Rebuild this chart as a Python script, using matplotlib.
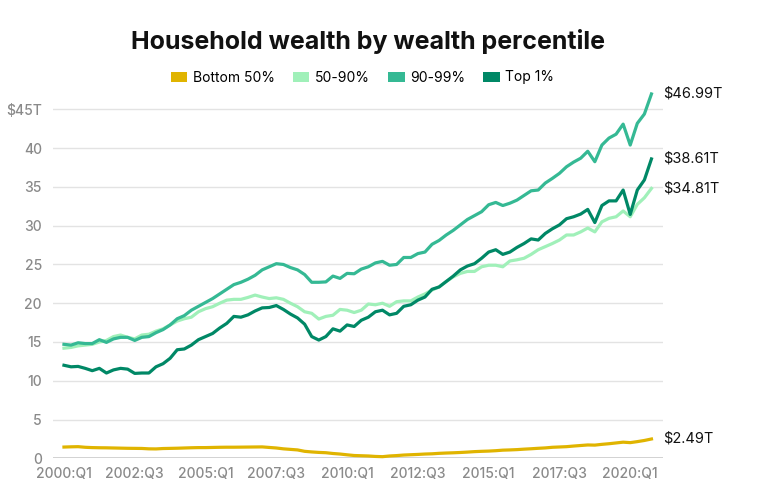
import matplotlib
matplotlib.use("Agg")
import matplotlib.pyplot as plt
from matplotlib.patches import Patch

plt.rcParams['font.family'] = ['Inter', 'DejaVu Sans']

# quarterly, 2000:Q1 .. 2020:Q4, trillions of dollars
quarters = [f"{y}:Q{q}" for y in range(2000, 2021) for q in range(1, 5)]

bottom_50 = [1.45, 1.48, 1.50, 1.42, 1.38, 1.36, 1.35, 1.33, 1.31, 1.29,
             1.28, 1.27, 1.22, 1.21, 1.26, 1.28, 1.30, 1.33, 1.36, 1.38,
             1.38, 1.40, 1.42, 1.43, 1.43, 1.44, 1.45, 1.46, 1.47, 1.40,
             1.33, 1.22, 1.15, 1.08, 0.90, 0.82, 0.76, 0.72, 0.62, 0.55,
             0.45, 0.36, 0.33, 0.30, 0.24, 0.21, 0.30, 0.35, 0.42, 0.46,
             0.50, 0.55, 0.58, 0.64, 0.68, 0.71, 0.75, 0.80, 0.86, 0.90,
             0.93, 0.98, 1.05, 1.08, 1.12, 1.18, 1.23, 1.29, 1.34, 1.42,
             1.46, 1.50, 1.58, 1.65, 1.72, 1.70, 1.80, 1.88, 1.98, 2.08,
             2.02, 2.15, 2.30, 2.49]

p50_90 = [14.2, 14.3, 14.5, 14.6, 14.7, 15.0, 15.2, 15.7, 15.9, 15.6,
          15.4, 15.9, 16.0, 16.4, 16.7, 17.2, 17.7, 18.0, 18.2, 18.9,
          19.3, 19.55, 20.0, 20.4, 20.5, 20.5, 20.75, 21.05, 20.8, 20.6,
          20.7, 20.5, 20.0, 19.55, 18.9, 18.7, 17.96, 18.3, 18.45, 19.2,
          19.1, 18.8, 19.1, 19.9, 19.8, 20.0, 19.6, 20.2, 20.3, 20.3,
          20.8, 21.2, 21.7, 22.1, 22.8, 23.4, 23.85, 24.1, 24.1, 24.7,
          24.9, 24.9, 24.7, 25.45, 25.6, 25.8, 26.3, 26.9, 27.3, 27.7,
          28.15, 28.8, 28.8, 29.2, 29.7, 29.2, 30.5, 30.95, 31.15, 31.9,
          31.15, 32.75, 33.6, 34.81]

p90_99 = [14.7, 14.6, 14.9, 14.8, 14.8, 15.3, 14.95, 15.4, 15.6, 15.6,
          15.2, 15.6, 15.7, 16.2, 16.6, 17.2, 18.0, 18.4, 19.1, 19.6,
          20.1, 20.6, 21.2, 21.8, 22.4, 22.7, 23.1, 23.6, 24.3, 24.7,
          25.1, 25.0, 24.6, 24.3, 23.7, 22.7, 22.7, 22.75, 23.5, 23.2,
          23.85, 23.8, 24.4, 24.7, 25.2, 25.4, 24.9, 25.0, 25.9, 25.9,
          26.4, 26.6, 27.6, 28.1, 28.8, 29.4, 30.1, 30.8, 31.3, 31.8,
          32.7, 33.0, 32.6, 32.9, 33.3, 33.9, 34.5, 34.6, 35.5, 36.1,
          36.75, 37.6, 38.2, 38.7, 39.6, 38.25, 40.4, 41.3, 41.8, 43.1,
          40.4, 43.2, 44.4, 46.99]

top_1 = [12.0, 11.8, 11.85, 11.6, 11.3, 11.6, 11.0, 11.4, 11.6, 11.5,
         10.95, 11.0, 11.0, 11.8, 12.2, 12.9, 14.0, 14.1, 14.6, 15.3,
         15.7, 16.1, 16.8, 17.4, 18.3, 18.2, 18.5, 19.0, 19.4, 19.45,
         19.7, 19.2, 18.6, 18.1, 17.3, 15.7, 15.25, 15.7, 16.7, 16.4,
         17.2, 17.0, 17.8, 18.2, 18.9, 19.1, 18.5, 18.7, 19.6, 19.8,
         20.4, 20.8, 21.8, 22.1, 22.8, 23.5, 24.3, 24.8, 25.1, 25.8,
         26.6, 26.9, 26.3, 26.6, 27.2, 27.7, 28.3, 28.15, 29.0, 29.6,
         30.1, 30.9, 31.15, 31.5, 32.1, 30.4, 32.6, 33.2, 33.2, 34.6,
         31.45, 34.6, 35.9, 38.61]

series = [("Bottom 50%", bottom_50, "#E0B400"),
          ("50-90%", p50_90, "#A0F0B9"),
          ("90-99%", p90_99, "#35B994"),
          ("Top 1%", top_1, "#008866")]

y_ticks = [0, 5, 10, 15, 20, 25, 30, 35, 40, 45]
y_labels = ["0", "5", "10", "15", "20", "25", "30", "35", "40", "$45T"]

fig = plt.figure(figsize=(7.68, 5.0), dpi=100)
ax = fig.add_axes([0.069, 0.0834, 0.794, 0.7366])

x = list(range(len(quarters)))
for name, vals, col in series:
    ax.plot(x, vals, color=col, lw=2.3, solid_joinstyle="round", clip_on=False, zorder=3)
    ax.text(len(x) - 1 + 1.6, vals[-1], f"${vals[-1]:.2f}T", fontsize=10.5,
            color="#111111", va="center", ha="left")

ax.set_xlim(-1.55, 84.6)
ax.set_ylim(0, 47.5)
ax.set_yticks(y_ticks)
ax.set_yticklabels(y_labels)
ax.set_xticks(x[::10])
ax.set_xticklabels(quarters[::10])
ax.tick_params(axis="both", length=0, labelsize=10, labelcolor="#8a8a8a")
ax.tick_params(axis="x", pad=6)
ax.tick_params(axis="y", pad=8)
for lbl in ax.get_xticklabels() + ax.get_yticklabels():
    lbl.set_fontweight("medium")

ax.grid(axis="y", color="#e3e3e3", lw=1)
ax.set_axisbelow(True)
for s in ax.spines.values():
    s.set_visible(False)
ax.axhline(0, color="#cccccc", lw=1.2, zorder=2)

fig.text(0.479, 0.916, "Household wealth by wealth percentile", ha="center",
         va="center", fontsize=18, fontweight="bold", color="#111111")

handles = [Patch(facecolor=c, edgecolor="none", label=n) for n, v, c in series]
fig.legend(handles=handles, loc="center", bbox_to_anchor=(0.472, 0.845), ncol=4,
           frameon=False, fontsize=10, handlelength=1.2, handleheight=0.75,
           handletextpad=0.4, columnspacing=1.3)

fig.savefig("out.png", dpi=100)
